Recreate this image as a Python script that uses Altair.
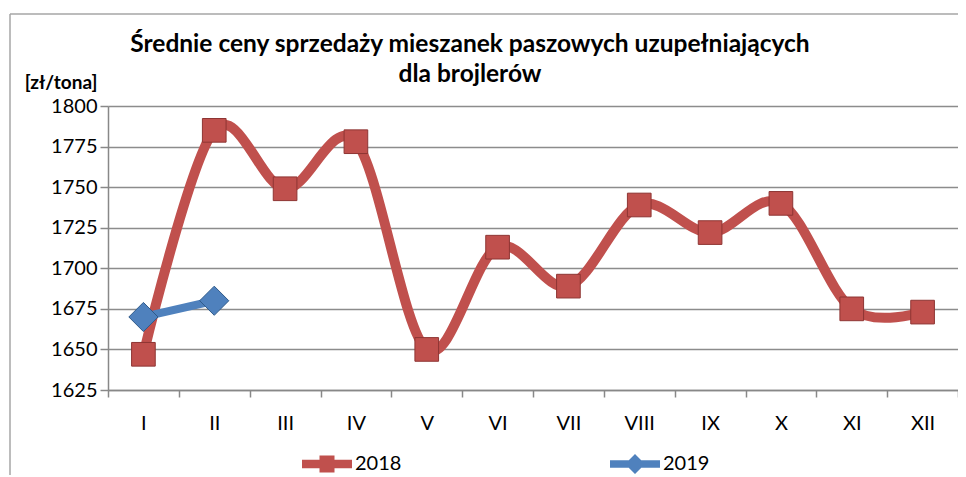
import altair as alt
import pandas as pd

months = ["I", "II", "III", "IV", "V", "VI", "VII", "VIII", "IX", "X", "XI", "XII"]
values_2018 = [1647, 1785, 1749, 1778, 1650, 1713, 1689, 1739, 1722, 1740, 1675, 1673]
months_2019 = ["I", "II"]
values_2019 = [1670, 1680]
series = ["2018", "2019"]
colors = ["#C0504D", "#4F81BD"]
y_ticks = [1625, 1650, 1675, 1700, 1725, 1750, 1775, 1800]
title_lines = ["Średnie ceny sprzedaży mieszanek paszowych uzupełniających", "dla brojlerów"]
y_title = "[zł/tona]"

df18 = pd.DataFrame({"month": months, "value": values_2018, "series": "2018"})
df19 = pd.DataFrame({"month": months_2019, "value": values_2019, "series": "2019"})
df = pd.concat([df18, df19], ignore_index=True)

FONT = "Lato"

x_enc = alt.X(
    "month:N",
    sort=months,
    scale=alt.Scale(domain=months, paddingInner=0, paddingOuter=0),
    axis=alt.Axis(
        title=None, labelAngle=0, labelFont=FONT, labelFontSize=20, labelColor="#000",
        labelPadding=16, tickBand="extent", tickSize=7, tickColor="#888", tickWidth=1.5,
        domainColor="#888", domainWidth=1.5, grid=False,
    ),
)
y_enc = alt.Y(
    "value:Q",
    scale=alt.Scale(domain=[1625, 1800], nice=False, zero=False),
    axis=alt.Axis(
        values=y_ticks, format="d", title=y_title, titleAngle=0, titleAlign="right",
        titleBaseline="alphabetic", titleX=-11, titleY=-18, titleFont=FONT, titleFontSize=19,
        titleFontWeight="bold", titleColor="#000", labelFont=FONT, labelFontSize=20,
        labelColor="#000", labelPadding=3, tickSize=8, tickColor="#888", tickWidth=1.5,
        domainColor="#888", domainWidth=1.5, grid=True, gridColor="#8c8c8c", gridWidth=1.5,
    ),
)

base = alt.Chart(df).encode(x=x_enc, y=y_enc)

line18 = base.transform_filter(alt.datum.series == "2018").mark_line(
    color=colors[0], strokeWidth=10, interpolate="cardinal"
)
line19 = base.transform_filter(alt.datum.series == "2019").mark_line(
    color=colors[1], strokeWidth=8
)
pts18 = base.transform_filter(alt.datum.series == "2018").mark_point(
    shape="square", size=560, filled=True, fill=colors[0], stroke="#8E3533", strokeWidth=1, opacity=1
)
pts19 = base.transform_filter(alt.datum.series == "2019").mark_point(
    shape="diamond", size=850, filled=True, fill=colors[1], stroke="#2F5A8A", strokeWidth=1, opacity=1
)

path18 = "M-1,-0.17L1,-0.17L1,0.17L-1,0.17Z M-0.3,-0.34L0.3,-0.34L0.3,0.34L-0.3,0.34Z"
path19 = "M-1,-0.15L1,-0.15L1,0.15L-1,0.15Z M0,-0.4L0.4,0L0,0.4L-0.4,0Z"

legend_layer = base.transform_filter("false").mark_point(filled=True, opacity=1).encode(
    color=alt.Color(
        "series:N",
        scale=alt.Scale(domain=series, range=colors),
        legend=alt.Legend(
            title=None, orient="none", legendX=194, legendY=333, direction="horizontal",
            symbolSize=2500, symbolOpacity=1, symbolStrokeWidth=0, labelFont=FONT,
            labelFontSize=20, labelColor="#000", labelOffset=3, columnPadding=208, padding=0,
        ),
    ),
    shape=alt.Shape("series:N", scale=alt.Scale(domain=series, range=[path18, path19])),
)

frame_df = pd.DataFrame({"a": [0]})
frame_v = alt.Chart(frame_df).mark_rule(color="#a6a6a6", strokeWidth=1.5).encode(
    x=alt.value(-98), y=alt.value(-92), y2=alt.value(371)
)
frame_h = alt.Chart(frame_df).mark_rule(color="#a6a6a6", strokeWidth=1.5).encode(
    x=alt.value(-98), x2=alt.value(850), y=alt.value(-92)
)
title_mark = alt.Chart(frame_df).mark_text(
    text=title_lines, font=FONT, fontSize=24.5, fontWeight="bold", color="#000",
    align="center", baseline="alphabetic", lineHeight=30,
).encode(x=alt.value(362), y=alt.value(-54))

chart = alt.layer(
    frame_v, frame_h, title_mark, line18, line19, pts18, pts19, legend_layer
).properties(
    width=850,
    height=284,
    autosize=alt.AutoSizeParams(type="none"),
    padding={"left": 100, "top": 98, "right": 0, "bottom": 85},
).configure_view(stroke=None).configure(background="white")

chart.save("out.html", embed_options={"renderer": "svg", "actions": False})
